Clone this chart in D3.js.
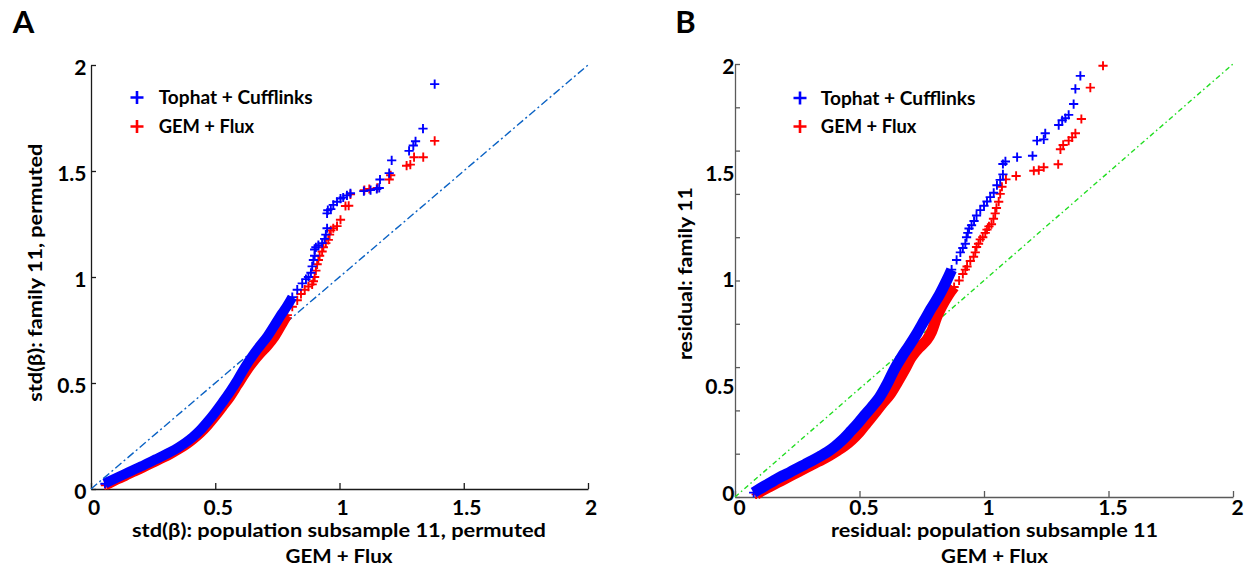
<!DOCTYPE html>
<html><head><meta charset="utf-8">
<script src="https://cdn.jsdelivr.net/npm/d3@7"></script>
<style>
body{margin:0;background:#fff}
svg{display:block}
text{font-family:Lato,'Open Sans',sans-serif;font-weight:700;fill:#000}
</style>
</head><body>
<svg id="c" width="1247" height="569"></svg>
<script>
// ---------- data ----------
const majorTicks = [0, 0.5, 1, 1.5, 2];
const majorTickLabels = ["0", "0.5", "1", "1.5", "2"];
const minorTicksB = [0, 0.2, 0.4, 0.6, 0.8, 1, 1.2, 1.4, 1.6, 1.8, 2];
const seriesNames = ["Tophat + Cufflinks", "GEM + Flux"];
const diagEnds = [0, 2];

// Panel A : std(beta)  [x, y]
const A_tophat_band = [[0.056,0.025],[0.08,0.04],[0.11,0.057],[0.14,0.073],[0.17,0.09],[0.2,0.106],[0.23,0.123],[0.26,0.14],[0.29,0.157],[0.32,0.175],[0.35,0.195],[0.38,0.218],[0.41,0.245],[0.44,0.278],[0.47,0.318],[0.5,0.362],[0.53,0.41],[0.56,0.46],[0.59,0.515],[0.62,0.575],[0.65,0.628],[0.68,0.675],[0.71,0.72],[0.74,0.775],[0.77,0.83],[0.79,0.865],[0.81,0.905]];
const A_tophat_tail = [[0.83,0.94],[0.85,0.97],[0.865,0.99],[0.875,1.0],[0.885,1.02],[0.89,1.05],[0.895,1.08],[0.9,1.1],[0.9,1.13],[0.905,1.14],[0.915,1.15],[0.93,1.16],[0.94,1.18],[0.945,1.2],[0.95,1.23],[0.95,1.3],[0.953,1.315],[0.965,1.32],[0.975,1.34],[0.99,1.355],[1.004,1.37],[1.015,1.375],[1.03,1.385],[1.044,1.395],[1.098,1.405],[1.125,1.41],[1.15,1.415],[1.16,1.42],[1.163,1.46],[1.2,1.49],[1.21,1.55],[1.28,1.595],[1.297,1.62],[1.306,1.64],[1.336,1.70],[1.383,1.91]];
const A_gem_band = [[0.058,0.018],[0.08,0.03],[0.11,0.047],[0.14,0.063],[0.17,0.08],[0.2,0.096],[0.23,0.113],[0.26,0.13],[0.29,0.147],[0.32,0.165],[0.35,0.185],[0.38,0.207],[0.41,0.233],[0.44,0.263],[0.47,0.3],[0.5,0.342],[0.53,0.388],[0.56,0.435],[0.59,0.49],[0.62,0.545],[0.65,0.595],[0.68,0.637],[0.71,0.675],[0.74,0.72],[0.77,0.78],[0.79,0.82]];
const A_gem_tail = [[0.81,0.86],[0.83,0.89],[0.845,0.92],[0.86,0.94],[0.875,0.955],[0.89,0.965],[0.895,0.98],[0.9,1.0],[0.905,1.03],[0.91,1.06],[0.915,1.08],[0.92,1.1],[0.93,1.12],[0.935,1.14],[0.945,1.16],[0.955,1.175],[0.96,1.2],[0.965,1.22],[0.975,1.23],[0.99,1.24],[1.004,1.27],[1.024,1.335],[1.037,1.336],[1.044,1.39],[1.1,1.41],[1.12,1.415],[1.152,1.42],[1.2,1.46],[1.206,1.48],[1.27,1.525],[1.285,1.53],[1.3,1.565],[1.337,1.565],[1.383,1.642]];

// Panel B : residual  [x, y]
const B_tophat_band = [[0.075,0.02],[0.1,0.038],[0.13,0.058],[0.16,0.078],[0.19,0.097],[0.22,0.114],[0.25,0.132],[0.28,0.15],[0.31,0.168],[0.34,0.187],[0.37,0.207],[0.4,0.232],[0.43,0.262],[0.46,0.298],[0.49,0.335],[0.52,0.377],[0.55,0.417],[0.58,0.46],[0.61,0.52],[0.64,0.59],[0.67,0.648],[0.7,0.7],[0.73,0.755],[0.76,0.815],[0.79,0.875],[0.82,0.932],[0.85,1.0],[0.87,1.05]];
const B_tophat_tail = [[0.89,1.095],[0.905,1.13],[0.915,1.15],[0.925,1.17],[0.93,1.2],[0.935,1.22],[0.94,1.24],[0.95,1.255],[0.96,1.275],[0.97,1.3],[0.985,1.325],[1.0,1.345],[1.012,1.365],[1.025,1.385],[1.039,1.405],[1.052,1.44],[1.065,1.465],[1.076,1.49],[1.076,1.538],[1.086,1.55],[1.133,1.57],[1.195,1.576],[1.213,1.646],[1.24,1.652],[1.246,1.68],[1.3,1.718],[1.314,1.74],[1.327,1.75],[1.34,1.765],[1.36,1.815],[1.367,1.885],[1.387,1.945]];
const B_gem_band = [[0.085,0.012],[0.11,0.03],[0.14,0.048],[0.17,0.066],[0.2,0.084],[0.23,0.102],[0.26,0.12],[0.29,0.138],[0.32,0.156],[0.35,0.173],[0.38,0.192],[0.41,0.213],[0.44,0.236],[0.47,0.265],[0.5,0.3],[0.53,0.343],[0.56,0.385],[0.59,0.43],[0.62,0.47],[0.65,0.525],[0.68,0.585],[0.71,0.648],[0.74,0.69],[0.77,0.725],[0.79,0.765],[0.81,0.83],[0.83,0.88],[0.855,0.93],[0.88,0.97]];
const B_gem_tail = [[0.9,1.0],[0.915,1.03],[0.925,1.05],[0.932,1.065],[0.945,1.09],[0.958,1.11],[0.965,1.13],[0.97,1.155],[0.978,1.17],[0.985,1.19],[0.995,1.2],[1.005,1.22],[1.012,1.235],[1.02,1.25],[1.03,1.26],[1.038,1.285],[1.045,1.31],[1.05,1.335],[1.059,1.364],[1.065,1.4],[1.072,1.433],[1.088,1.467],[1.129,1.483],[1.2,1.507],[1.22,1.51],[1.24,1.523],[1.298,1.537],[1.307,1.606],[1.318,1.626],[1.34,1.646],[1.354,1.661],[1.367,1.68],[1.391,1.746],[1.427,1.891],[1.478,1.992]];

// ---------- drawing ----------
const svg = d3.select("#c");
const BLUE = "#0000ff", RED = "#ff0000";

function plus(s){ return `M${-s},0H${s}M0,${-s}V${s}`; }

function panel(cfg){
  const g = svg.append("g");
  const x = d3.scaleLinear().domain([0,2]).range(cfg.xr);
  const y = d3.scaleLinear().domain([0,2]).range(cfg.yr);
  const yLab = d3.scaleLinear().domain([0,2]).range(cfg.yLabR);

  // axes
  const ax = g.append("g").attr("transform",`translate(0,${cfg.yr[0]})`)
    .call(d3.axisBottom(x).tickValues(majorTicks).tickSizeInner(-6).tickSizeOuter(0).tickFormat(""));
  const ay = g.append("g").attr("transform",`translate(${cfg.xr[0]},0)`)
    .call(d3.axisLeft(y).tickValues(cfg.yTicks).tickSizeInner(-5).tickSizeOuter(0).tickFormat(""));
  [ax, ay].forEach(a=>{
    a.selectAll("path,line").attr("stroke",cfg.axisColor).attr("stroke-width",1.3);
  });

  // tick labels
  g.selectAll(".xl").data(majorTicks).join("text")
    .attr("x",d=>x(d)+cfg.xLabDx).attr("y",507.5).attr("dy","0.36em")
    .attr("text-anchor","middle").style("font-size","21px")
    .text((d,i)=>majorTickLabels[i]);
  g.selectAll(".yl").data(majorTicks).join("text")
    .attr("x",cfg.yLabRight).attr("y",d=>yLab(d)).attr("dy","0.36em")
    .attr("text-anchor","end").style("font-size","21px")
    .text((d,i)=>majorTickLabels[i]);

  // diagonal reference line
  g.append("path")
    .attr("d", d3.line().x(d=>x(d)).y(d=>y(d))(diagEnds))
    .attr("fill","none").attr("stroke",cfg.diagColor).attr("stroke-width",1.4)
    .attr("stroke-dasharray",cfg.diagDash);

  // series: red then blue on top
  const series = [
    {band:cfg.gemBand, tail:cfg.gemTail, color:RED},
    {band:cfg.topBand, tail:cfg.topTail, color:BLUE}
  ];
  const line = d3.line().x(d=>x(d[0])).y(d=>y(d[1])).curve(d3.curveCatmullRom);
  series.forEach(s=>{
    g.append("path").attr("d",line(s.band)).attr("fill","none")
      .attr("stroke",s.color).attr("stroke-width",cfg.bandW).attr("stroke-linecap","butt").attr("stroke-linejoin","round");
    g.selectAll(null).data(s.band.concat(s.tail)).join("path")
      .attr("transform",d=>`translate(${x(d[0])},${y(d[1])})`)
      .attr("d",plus(4.6)).attr("fill","none").attr("stroke",s.color).attr("stroke-width",1.9);
  });

  // legend
  const colors = [BLUE, RED];
  seriesNames.forEach((nm,i)=>{
    const ly = cfg.legY[i];
    g.append("path").attr("transform",`translate(${cfg.legX},${ly})`)
      .attr("d",plus(6.5)).attr("fill","none").attr("stroke",colors[i]).attr("stroke-width",2.6);
    g.append("text").attr("x",cfg.legTextX).attr("y",ly).attr("dy","0.36em")
      .style("font-size","19px").attr("textLength",cfg.legW[i]).attr("lengthAdjust","spacingAndGlyphs")
      .text(nm);
  });

  // axis titles
  g.append("text").attr("x",cfg.xTitleX).attr("y",530).attr("dy","0.36em")
    .attr("text-anchor","middle").style("font-size","19.5px")
    .attr("textLength",cfg.xTitleW).attr("lengthAdjust","spacingAndGlyphs").text(cfg.xTitle);
  g.append("text").attr("x",cfg.xTitleX).attr("y",556).attr("dy","0.36em")
    .attr("text-anchor","middle").style("font-size","19.5px")
    .attr("textLength",107).attr("lengthAdjust","spacingAndGlyphs").text("GEM + Flux");
  g.append("text").attr("transform",`translate(${cfg.yTitleX},${cfg.yTitleY}) rotate(-90)`)
    .attr("dy","0.36em").attr("text-anchor","middle").style("font-size","19.5px")
    .attr("textLength",cfg.yTitleW).attr("lengthAdjust","spacingAndGlyphs").text(cfg.yTitle);

  // panel letter
  g.append("text").attr("x",cfg.letterX).attr("y",21.5).attr("dy","0.36em")
    .attr("text-anchor","middle").style("font-size","31px").text(cfg.letter);
}

panel({
  xr:[91,588], yr:[489,65], yLabR:[491,67], yTicks:majorTicks,
  axisColor:"#1a1a1a", xLabDx:3, yLabRight:86.5, bandW:10,
  diagColor:"#0a62c4", diagDash:"8,3,2,3",
  gemBand:A_gem_band, gemTail:A_gem_tail, topBand:A_tophat_band, topTail:A_tophat_tail,
  legX:137, legTextX:158.7, legY:[97.5,126.5], legW:[154,95.5],
  xTitle:"std(\u03b2): population subsample 11, permuted", xTitleX:339, xTitleW:414,
  yTitle:"std(\u03b2): family 11, permuted", yTitleX:35, yTitleY:272.7, yTitleW:258,
  letter:"A", letterX:23.5
});
panel({
  xr:[735,1233], yr:[497,64], yLabR:[493,66.5], yTicks:minorTicksB,
  axisColor:"#5a5a5a", xLabDx:4.5, yLabRight:734.5, bandW:11,
  diagColor:"#22dd22", diagDash:"5,3,1.5,3",
  gemBand:B_gem_band, gemTail:B_gem_tail, topBand:B_tophat_band, topTail:B_tophat_tail,
  legX:800, legTextX:820.8, legY:[98,126.5], legW:[154.6,95.6],
  xTitle:"residual: population subsample 11", xTitleX:994.5, xTitleW:327,
  yTitle:"residual: family 11", yTitleX:685, yTitleY:273.6, yTitleW:173,
  letter:"B", letterX:685.5
});
</script>
</body></html>
